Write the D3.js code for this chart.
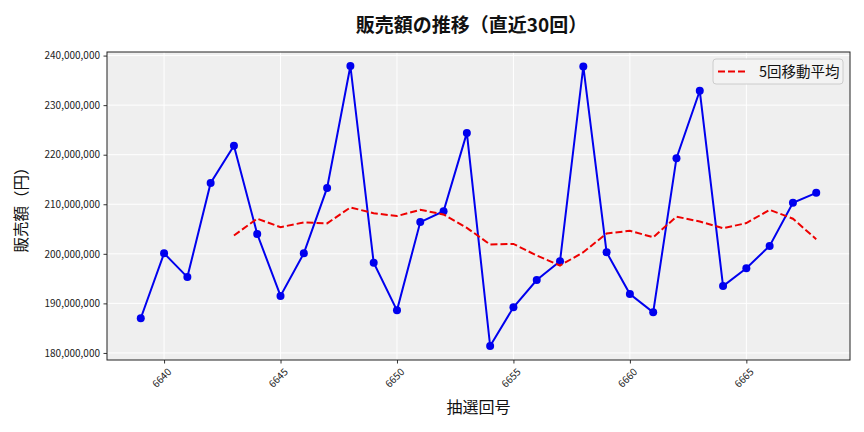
<!DOCTYPE html>
<html><head><meta charset="utf-8">
<script src="https://cdn.jsdelivr.net/npm/d3@7"></script>
<style>
body{margin:0;background:#fff;}
text{font-family:"Noto Sans CJK JP","Noto Sans",sans-serif;}
</style></head>
<body><svg id="c" width="864" height="432"></svg>
<script>
const draws = [6639,6640,6641,6642,6643,6644,6645,6646,6647,6648,6649,6650,6651,6652,6653,6654,6655,6656,6657,6658,6659,6660,6661,6662,6663,6664,6665,6666,6667,6668];
const sales = [187.0,200.1,195.3,214.3,221.8,204.0,191.5,200.1,213.3,237.9,198.2,188.6,206.4,208.6,224.4,181.4,189.2,194.7,198.5,237.8,200.3,191.9,188.2,219.3,232.9,193.5,197.1,201.6,210.3,212.3].map(v=>v*1e6);
const movingAvg = [null,null,null,null,203.7,207.1,205.38,206.34,206.14,209.36,208.2,207.62,208.88,207.94,205.24,201.88,202.0,199.66,197.64,200.32,204.1,204.64,203.34,207.5,206.52,205.16,206.2,208.88,207.08,202.96].map(v=>v==null?null:v*1e6);
const xTicks = [6640,6645,6650,6655,6660,6665];
const yTicks = [180e6,190e6,200e6,210e6,220e6,230e6,240e6];

const svg = d3.select("#c");
const L=107,R=850,T=52,B=360;
const x = d3.scaleLinear().domain([6639-1.45,6668+1.45]).range([L,R]);
const yMin=d3.min(sales), yMax=d3.max(sales), pad=(yMax-yMin)*0.05;
const y = d3.scaleLinear().domain([yMin-pad,yMax+pad]).range([B,T]);

svg.append("rect").attr("x",L).attr("y",T).attr("width",R-L).attr("height",B-T).attr("fill","#efefef");
// grid
svg.append("g").selectAll("line").data(xTicks).join("line")
  .attr("x1",d=>x(d)).attr("x2",d=>x(d)).attr("y1",T).attr("y2",B).attr("stroke","#fff").attr("stroke-width",1);
svg.append("g").selectAll("line").data(yTicks).join("line")
  .attr("x1",L).attr("x2",R).attr("y1",d=>y(d)).attr("y2",d=>y(d)).attr("stroke","#fff").attr("stroke-width",1);

// axes
const fmt = d3.format(",");
const ya = svg.append("g").attr("transform",`translate(${L},0)`).call(d3.axisLeft(y).tickValues(yTicks).tickFormat(fmt).tickSize(3.5).tickPadding(3.5));
ya.select(".domain").remove();
ya.selectAll("text").attr("font-size",10).attr("fill","#222");
ya.selectAll("line").attr("stroke","#333");
const xa = svg.append("g").attr("transform",`translate(0,${B})`).call(d3.axisBottom(x).tickValues(xTicks).tickFormat(d3.format("d")).tickSize(3.5));
xa.select(".domain").remove();
xa.selectAll("line").attr("stroke","#333");
xa.selectAll("text").attr("font-size",10).attr("fill","#222")
  .attr("text-anchor","end").attr("dy","0").attr("transform","translate(3,8) rotate(-45)");

// frame
svg.append("rect").attr("x",L).attr("y",T).attr("width",R-L).attr("height",B-T).attr("fill","none").attr("stroke","#222").attr("stroke-width",1);

// lines
const line = d3.line().x((d,i)=>x(draws[i])).y(d=>y(d));
svg.append("path").datum(sales).attr("d",line).attr("fill","none").attr("stroke","#0000ee").attr("stroke-width",2);
svg.append("g").selectAll("circle").data(sales).join("circle")
  .attr("cx",(d,i)=>x(draws[i])).attr("cy",d=>y(d)).attr("r",4).attr("fill","#0000ee");
const maLine = d3.line().defined(d=>d!=null).x((d,i)=>x(draws[i])).y(d=>y(d));
svg.append("path").datum(movingAvg).attr("d",maLine).attr("fill","none").attr("stroke","#ee0000").attr("stroke-width",2).attr("stroke-dasharray","7,3");

// legend
svg.append("rect").attr("x",713).attr("y",59).attr("width",130).attr("height",25).attr("rx",3)
  .attr("fill","#f3f3f3").attr("stroke","#ccc");
svg.append("line").attr("x1",718).attr("x2",747).attr("y1",71.5).attr("y2",71.5).attr("stroke","#ee0000").attr("stroke-width",2).attr("stroke-dasharray","7,3");
svg.append("text").attr("x",759).attr("y",77).attr("font-size",14.5).attr("fill","#111").text("5回移動平均");

// titles
svg.append("text").attr("x",(L+R)/2-7).attr("y",32).attr("text-anchor","middle").attr("font-size",19).attr("font-weight","bold").attr("fill","#111").text("販売額の推移（直近30回）");
svg.append("text").attr("x",(L+R)/2).attr("y",413).attr("text-anchor","middle").attr("font-size",16).attr("fill","#111").text("抽選回号");
svg.append("text").attr("transform",`translate(27,${(T+B)/2}) rotate(-90)`).attr("text-anchor","middle").attr("font-size",15.5).attr("fill","#111").text("販売額（円）");
</script></body></html>
